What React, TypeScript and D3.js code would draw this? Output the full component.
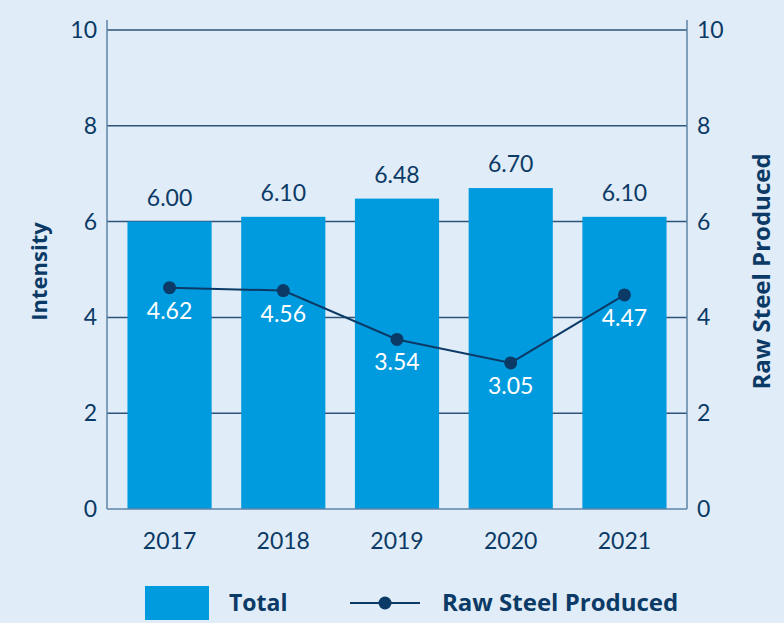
import React, { useEffect, useRef } from "react";
import * as d3 from "d3";

const years = ["2017", "2018", "2019", "2020", "2021"];
const totalValues = [6.0, 6.1, 6.48, 6.7, 6.1];
const rawSteelValues = [4.62, 4.56, 3.54, 3.05, 4.47];
const yTicks = [0, 2, 4, 6, 8, 10];

const W = 784;
const H = 623;
const BG = "#e0ecf7";
const BAR = "#009ade";
const NAVY = "#0b3a66";
const FONT = "Lato, 'Open Sans', sans-serif";
const BOLD_FONT = "'Open Sans', Lato, sans-serif";

export default function App() {
  const ref = useRef<SVGSVGElement>(null);

  useEffect(() => {
    if (!ref.current) return;
    const svg = d3.select(ref.current);
    svg.selectAll("*").remove();

    const left = 107;
    const right = 687;
    const top = 30;
    const bottom = 509;

    const x = d3
      .scaleBand<string>()
      .domain(years)
      .range([left, right])
      .paddingInner(0.26)
      .paddingOuter(0.18);

    const y = d3.scaleLinear().domain([0, 10]).range([bottom, top]);

    svg.append("rect").attr("width", W).attr("height", H).attr("fill", BG);

    // grid lines
    svg
      .append("g")
      .selectAll("line")
      .data(yTicks.filter((d) => d > 0))
      .join("line")
      .attr("x1", left)
      .attr("x2", right)
      .attr("y1", (d) => y(d))
      .attr("y2", (d) => y(d))
      .attr("stroke", "#2e5479")
      .attr("stroke-width", 1.5);

    // side axes
    [left, right].forEach((xx) => {
      svg
        .append("line")
        .attr("x1", xx)
        .attr("x2", xx)
        .attr("y1", 20)
        .attr("y2", bottom)
        .attr("stroke", "#5f84a8")
        .attr("stroke-width", 1.5);
    });

    // bars
    svg
      .append("g")
      .selectAll("rect")
      .data(totalValues)
      .join("rect")
      .attr("x", (_, i) => x(years[i]) as number)
      .attr("width", x.bandwidth())
      .attr("y", (d) => y(d))
      .attr("height", (d) => bottom - y(d))
      .attr("fill", BAR);

    // baseline
    svg
      .append("line")
      .attr("x1", left)
      .attr("x2", right)
      .attr("y1", bottom)
      .attr("y2", bottom)
      .attr("stroke", "#5f84a8")
      .attr("stroke-width", 1.5);

    // bar labels
    svg
      .append("g")
      .selectAll("text")
      .data(totalValues)
      .join("text")
      .attr("x", (_, i) => (x(years[i]) as number) + x.bandwidth() / 2)
      .attr("y", (d) => y(d) - 16)
      .attr("text-anchor", "middle")
      .attr("fill", NAVY)
      .style("font-size", "23px")
      .text((d) => d.toFixed(2));

    const cx = (i: number) => (x(years[i]) as number) + x.bandwidth() / 2;

    // line
    const line = d3
      .line<number>()
      .x((_, i) => cx(i))
      .y((d) => y(d));

    svg
      .append("path")
      .datum(rawSteelValues)
      .attr("d", line)
      .attr("fill", "none")
      .attr("stroke", NAVY)
      .attr("stroke-width", 2);

    svg
      .append("g")
      .selectAll("circle")
      .data(rawSteelValues)
      .join("circle")
      .attr("cx", (_, i) => cx(i))
      .attr("cy", (d) => y(d))
      .attr("r", 6.5)
      .attr("fill", NAVY);

    svg
      .append("g")
      .selectAll("text")
      .data(rawSteelValues)
      .join("text")
      .attr("x", (_, i) => cx(i))
      .attr("y", (d) => y(d) + 31)
      .attr("text-anchor", "middle")
      .attr("fill", "#ffffff")
      .style("font-size", "23px")
      .text((d) => d.toFixed(2));

    // tick labels
    svg
      .append("g")
      .selectAll("text")
      .data(yTicks)
      .join("text")
      .attr("x", left - 10)
      .attr("y", (d) => y(d) + 8)
      .attr("text-anchor", "end")
      .attr("fill", NAVY)
      .style("font-size", "23px")
      .text((d) => d);

    svg
      .append("g")
      .selectAll("text")
      .data(yTicks)
      .join("text")
      .attr("x", right + 10)
      .attr("y", (d) => y(d) + 8)
      .attr("text-anchor", "start")
      .attr("fill", NAVY)
      .style("font-size", "23px")
      .text((d) => d);

    svg
      .append("g")
      .selectAll("text")
      .data(years)
      .join("text")
      .attr("x", (d) => (x(d) as number) + x.bandwidth() / 2)
      .attr("y", 549)
      .attr("text-anchor", "middle")
      .attr("fill", NAVY)
      .style("font-size", "23px")
      .text((d) => d);

    // axis titles
    svg
      .append("text")
      .attr("transform", `translate(47,${(top + bottom) / 2 + 2}) rotate(-90)`)
      .attr("text-anchor", "middle")
      .attr("fill", NAVY)
      .style("font-family", BOLD_FONT)
      .style("font-size", "22px")
      .style("font-weight", "700")
      .text("Intensity");

    svg
      .append("text")
      .attr("transform", `translate(770,${(top + bottom) / 2 + 2}) rotate(-90)`)
      .attr("text-anchor", "middle")
      .attr("fill", NAVY)
      .style("font-family", BOLD_FONT)
      .style("font-size", "24px")
      .style("font-weight", "700")
      .text("Raw Steel Produced");

    // legend
    const lg = svg.append("g");
    lg.append("rect").attr("x", 145).attr("y", 586).attr("width", 64).attr("height", 34).attr("fill", BAR);
    lg.append("text")
      .attr("x", 229)
      .attr("y", 611)
      .attr("fill", NAVY)
      .style("font-family", BOLD_FONT)
      .style("font-size", "23px")
      .style("font-weight", "700")
      .text("Total");
    lg.append("line")
      .attr("x1", 350)
      .attr("x2", 420)
      .attr("y1", 603)
      .attr("y2", 603)
      .attr("stroke", NAVY)
      .attr("stroke-width", 2);
    lg.append("circle").attr("cx", 385).attr("cy", 603).attr("r", 6.5).attr("fill", NAVY);
    lg.append("text")
      .attr("x", 442)
      .attr("y", 611)
      .attr("fill", NAVY)
      .style("font-family", BOLD_FONT)
      .style("font-size", "24px")
      .style("font-weight", "700")
      .text("Raw Steel Produced");
  }, []);

  return (
    <svg
      ref={ref}
      width={W}
      height={H}
      style={{ position: "absolute", left: 0, top: 0, fontFamily: FONT }}
    />
  );
}
